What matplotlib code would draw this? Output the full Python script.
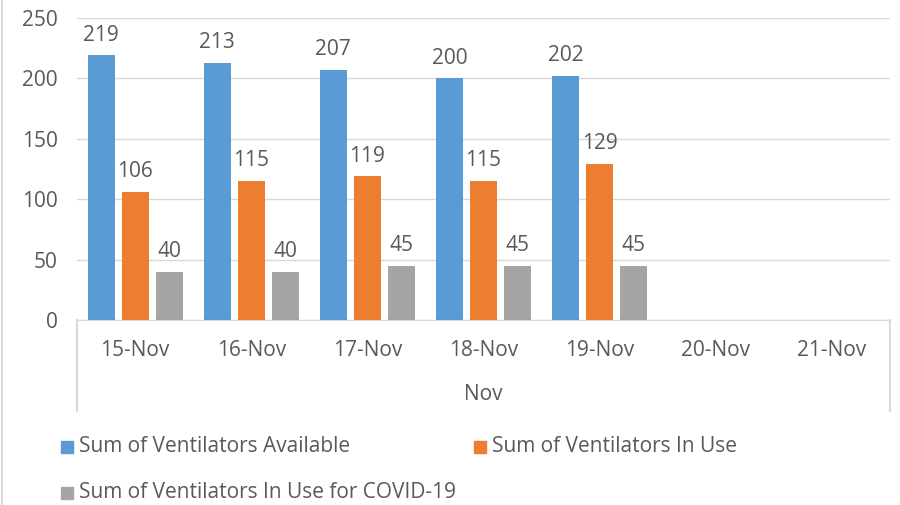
import matplotlib.pyplot as plt
import numpy as np
from matplotlib.lines import Line2D

plt.rcParams['font.family'] = ['Open Sans', 'DejaVu Sans']

dias = ['15-Nov', '16-Nov', '17-Nov', '18-Nov', '19-Nov', '20-Nov', '21-Nov']
disponiveis = [219, 213, 207, 200, 202, None, None]
em_uso = [106, 115, 119, 115, 129, None, None]
em_uso_covid = [40, 40, 45, 45, 45, None, None]

series = [
    ('Sum of Ventilators Available', disponiveis, '#5b9bd5'),
    ('Sum of Ventilators In Use', em_uso, '#ed7d31'),
    ('Sum of Ventilators In Use for COVID-19', em_uso_covid, '#a5a5a5'),
]

cor_texto = '#595959'
cor_linha = '#d9d9d9'
tam = 15

W, H = 900, 505
fig = plt.figure(figsize=(9, 5.05), dpi=100)
ax = fig.add_axes([77 / W, 1 - 320 / H, (890 - 77) / W, (320 - 18) / H])

x = np.arange(len(dias))
largura = 0.233
passo = 0.293
for i, (nome, valores, cor) in enumerate(series):
    xs = [xi + (i - 1) * passo for xi, v in zip(x, valores) if v is not None]
    vs = [v for v in valores if v is not None]
    ax.bar(xs, vs, width=largura, color=cor, label=nome, zorder=3)
    for xb, v in zip(xs, vs):
        ax.annotate(str(v), xy=(xb, v), xytext=(0, 7), textcoords='offset points',
                    ha='center', va='bottom', fontsize=tam, color=cor_texto)

ax.set_xlim(-0.5, len(dias) - 0.5)
ax.set_ylim(0, 250)
ax.set_yticks(range(0, 251, 50))
ax.set_xticks([])
ax.grid(axis='y', color=cor_linha, linewidth=1, zorder=0)
for s in ['top', 'right', 'left']:
    ax.spines[s].set_visible(False)
ax.spines['bottom'].set_color(cor_linha)
ax.tick_params(axis='y', length=0, labelsize=tam, labelcolor=cor_texto, pad=14)

# rótulos de categoria em dois níveis
for xi, d in zip(x, dias):
    ax.text(xi, -30 / 302 * 250, d, ha='center', va='center', fontsize=tam, color=cor_texto)
ax.text(0.5, -75 / 302, 'Nov', transform=ax.transAxes, ha='center', va='center',
        fontsize=tam, color=cor_texto)

def linha_px(x0, y0, x1, y1):
    fig.add_artist(Line2D([x0 / W, x1 / W], [1 - y0 / H, 1 - y1 / H],
                          color=cor_linha, linewidth=1.5, transform=fig.transFigure))

linha_px(77, 320, 77, 411)
linha_px(890, 320, 890, 411)
linha_px(2, 0, 2, H)

posicoes = [(61, 447), (474, 447), (61, 493)]
for (nome, _, cor), (px, py) in zip(series, posicoes):
    fig.add_artist(plt.Rectangle((px / W, 1 - (py + 6) / H), 12 / W, 12 / H,
                                 color=cor, transform=fig.transFigure))
    fig.text((px + 18) / W, 1 - py / H, nome, ha='left', va='center', fontsize=tam,
             color=cor_texto)

plt.savefig('out.png', dpi=100)
